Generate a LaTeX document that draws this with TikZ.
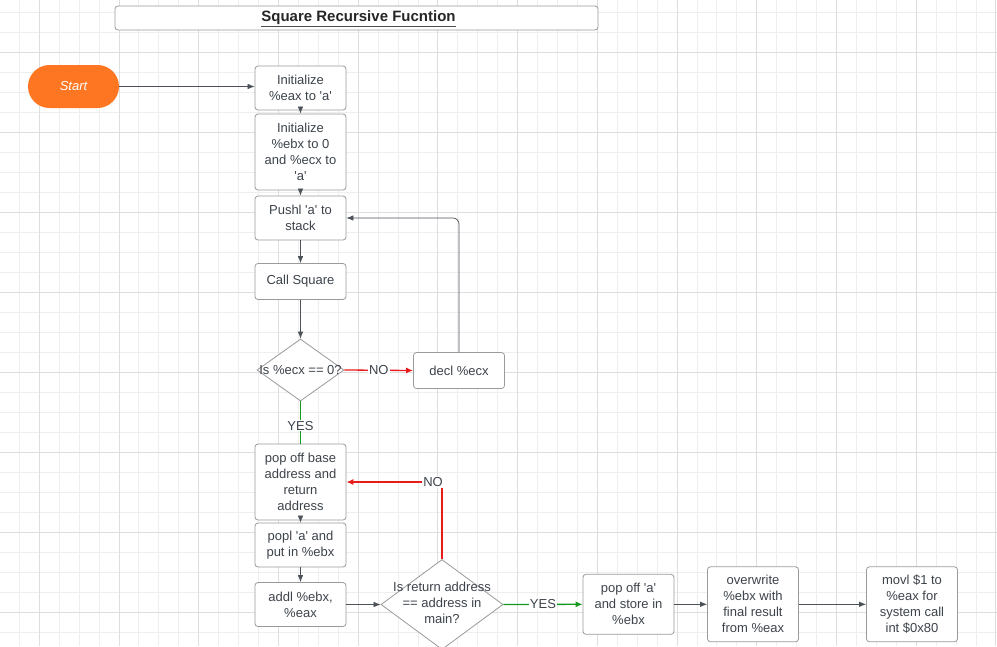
\documentclass[tikz,border=0pt]{standalone}
\usepackage{fontspec}
\setmainfont{Liberation Sans}[Ligatures=TeXOff]
\usetikzlibrary{shapes.geometric,arrows.meta}
\definecolor{txt}{HTML}{3D434B}
\definecolor{bord}{HTML}{9A9A9A}
\definecolor{ln}{HTML}{4D5259}
\definecolor{gmin}{HTML}{EEEEEE}
\definecolor{gmaj}{HTML}{DEDEDE}
\definecolor{org}{HTML}{FE7621}
\definecolor{rd}{HTML}{E81A1A}
\definecolor{gr}{HTML}{14991E}
\begin{document}
\begin{tikzpicture}[x=1pt,y=-1pt,
  box/.style={draw=bord, line width=0.8pt, rounded corners=3pt, fill=white, text=txt, align=center,
    font=\fontsize{13}{16}\selectfont, inner sep=0pt, minimum width=91pt},
  dia/.style={draw=bord, line width=0.8pt, diamond, fill=white, inner sep=0pt},
  dtxt/.style={text=txt, align=center, font=\fontsize{13}{16}\selectfont, inner sep=0pt},
  arr/.style={-{Latex[length=7pt,width=5.5pt]}, draw=ln, line width=0.7pt},
  carr/.style={-{Latex[length=7pt,width=6pt]}, line width=1.3pt},
  lbl/.style={fill=white, text=txt, font=\fontsize{13}{16}\selectfont, inner sep=1pt}]
\useasboundingbox (0,0) rectangle (997,646);
\fill[white] (0,0) rectangle (997,646);
% grid
\foreach \i in {0,...,50} \draw[gmin, line width=1pt] (19.4+19.93*\i,0) -- (19.4+19.93*\i,646);
\foreach \j in {0,...,31} \draw[gmin, line width=1pt] (0,12+20*\j) -- (997,12+20*\j);
\foreach \i in {0,...,12} \draw[gmaj, line width=1pt] (39.3+79.72*\i,0) -- (39.3+79.72*\i,646);
\foreach \j in {0,...,7} \draw[gmaj, line width=1pt] (0,52+80*\j) -- (997,52+80*\j);
% title
\node[draw=bord, line width=0.8pt, rounded corners=3pt, fill=white, minimum width=483pt, minimum height=24pt, inner sep=0pt] (tbox) at (356.5,18) {};
\node[font=\bfseries\fontsize{15}{18}\selectfont, text=black!85, inner sep=0pt] (ttl) at (358.5,17.5) {Square Recursive Fucntion};
\draw[black!70, line width=0.8pt] ([yshift=-2pt]ttl.south west) -- ([yshift=-2pt]ttl.south east);
% nodes
\node[fill=org, rounded corners=21.5pt, minimum width=91pt, minimum height=43pt, text=white,
  font=\itshape\fontsize{13}{16}\selectfont, inner sep=0pt] (start) at (73.5,86.5) {Start};
\node[box, minimum height=44pt] (b1) at (300.5,88) {Initialize\\\%eax to 'a'};
\node[box, minimum height=76pt] (b2) at (300.5,152) {Initialize\\\%ebx to 0\\and \%ecx to\\'a'};
\node[box, minimum height=44pt] (b3) at (300.5,218) {Pushl 'a' to\\stack};
\node[box, minimum height=36pt] (b4) at (300.5,281.5) {Call Square};
\node[dia, minimum width=87pt, minimum height=62pt] (d1) at (300.5,370) {};
\node[dtxt] (d1t) at (d1) {Is \%ecx == 0?};
\node[box, minimum height=36pt] (decl) at (459,370.5) {decl \%ecx};
\node[box, minimum height=76pt] (pb) at (300.5,482) {pop off base\\address and\\return\\address};
\node[box, minimum height=44pt] (popl) at (300.5,545) {popl 'a' and\\put in \%ebx};
\node[box, minimum height=44pt] (addl) at (300.5,604.5) {addl \%ebx,\\\%eax};
\node[dia, minimum width=122pt, minimum height=90pt] (d2) at (442,604.5) {};
\node[dtxt] (d2t) at (442,603) {Is return address\\== address in\\main?};
\node[box, minimum height=60pt] (pa) at (628.5,604.3) {pop off 'a'\\and store in\\\%ebx};
\node[box, minimum height=75pt] (ow) at (753,604.3) {overwrite\\\%ebx with\\final result\\from \%eax};
\node[box, minimum height=75pt] (mv) at (912,604.3) {movl \$1 to\\\%eax for\\system call\\int \$0x80};
% connectors
\draw[arr] (start.east) -- (start.east -| b1.west);
\draw[arr] (b1) -- (b2);
\draw[arr] (b2) -- (b3);
\draw[arr] (b3) -- (b4);
\draw[arr] (b4) -- (d1.north);
\draw[carr, draw=rd] (d1.east) -- node[lbl, pos=0.5] {NO} (decl.west);
\draw[arr, rounded corners=6pt] (decl.north) |- (b3.east);
\draw[draw=gr, line width=1.3pt] (d1.south) -- node[lbl, pos=0.58] {YES} (pb.north);
\draw[arr] (pb) -- (popl);
\draw[arr] (popl) -- (addl);
\draw[arr] (addl.east) -- (d2.west);
\draw[carr, draw=gr] (d2.east) -- node[lbl, pos=0.5] {YES} (pa.west);
\draw[carr, draw=rd] (d2.north) |- node[lbl, pos=0.547] {NO} (pb.east);
\draw[arr] (pa) -- (ow);
\draw[arr] (ow) -- (mv);
\end{tikzpicture}
\end{document}
